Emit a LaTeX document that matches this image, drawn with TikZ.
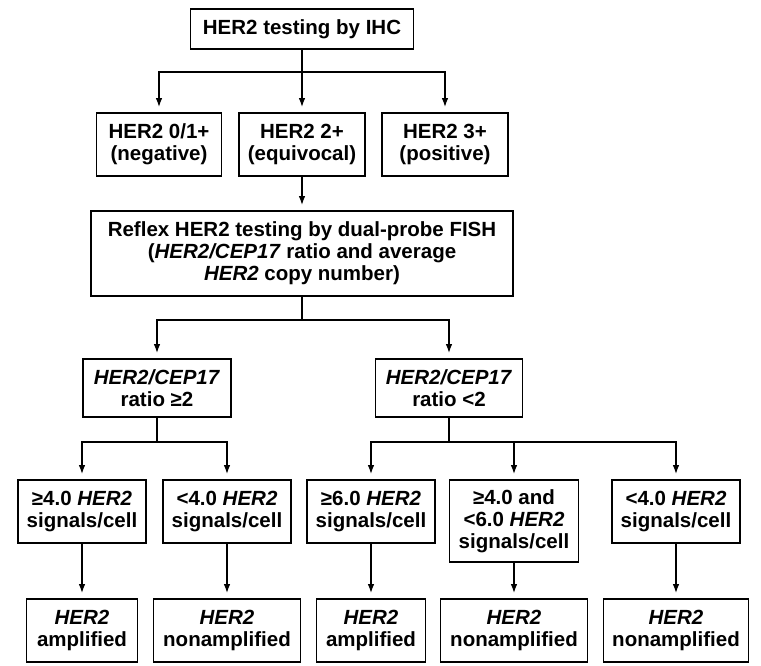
\documentclass[tikz,border=0pt]{standalone}
\usepackage{fontspec}
\setmainfont{Liberation Sans}
\usepackage{tikz}
\usetikzlibrary{positioning}
\usetikzlibrary{calc,arrows.meta}
\tikzset{
  box/.style = {rectangle, draw, line width=1.6pt, align=center,
   inner sep=1pt, font=\bfseries\fontsize{20.5}{22}\selectfont},
  link/.style = {line width=1.6pt},
  arr/.style = {-{Latex[length=9pt,width=6.5pt]}, line width=1.6pt,
   shorten >=5pt},
}
\newcommand{\gene}[1]{\textit{#1}}

\begin{document}
\begin{tikzpicture}[x=1pt,y=-1pt]
\useasboundingbox (0,0) rectangle (761,666);
\node at(302,29) (ihc) [box, minimum width=223pt, minimum height=40pt] {HER2 testing by IHC};
\node at(159,144.5) (neg) [box, minimum width=125pt, minimum height=63pt] {HER2 0/1+\\(negative)};
\node at(302,144.5) (equiv) [box, minimum width=126pt, minimum height=63pt] {HER2 2+\\(equivocal)};
\node at(445,144.5) (pos) [box, minimum width=126pt, minimum height=63pt] {HER2 3+\\(positive)};
\node at(302,253.5) (fish) [box, minimum width=422pt, minimum height=85pt] {Reflex HER2 testing by dual-probe FISH\\(\gene{HER2/CEP17} ratio and average\\\gene{HER2} copy number)};
\node at(157,388) (hi) [box, minimum width=148pt, minimum height=58pt] {\gene{HER2/CEP17}\\ratio ≥2};
\node at(449,388) (lo) [box, minimum width=147pt, minimum height=58pt] {\gene{HER2/CEP17}\\ratio <2};
% copy number
\node at(82,511.5) (b1) [box, minimum width=128pt, minimum height=63pt] {≥4.0 \gene{HER2}\\signals/cell};
\node at(227,511.5) (b2) [box, minimum width=128pt, minimum height=63pt] {<4.0 \gene{HER2}\\signals/cell};
\node at(371,511.5) (b3) [box, minimum width=128pt, minimum height=63pt] {≥6.0 \gene{HER2}\\signals/cell};
\node at(514,521) (b4) [box, minimum width=129pt, minimum height=82pt] {≥4.0 and\\<6.0 \gene{HER2}\\signals/cell};
\node at(676,511.5) (b5) [box, minimum width=128pt, minimum height=63pt] {<4.0 \gene{HER2}\\signals/cell};
% results
\node at(82,630.5) (c1) [box, minimum width=111pt, minimum height=63pt] {\gene{HER2}\\amplified};
\node at(227,630.5) (c2) [box, minimum width=147pt, minimum height=63pt] {\gene{HER2}\\nonamplified};
\node at(371,630.5) (c3) [box, minimum width=109pt, minimum height=63pt] {\gene{HER2}\\amplified};
\node at(514,630.5) (c4) [box, minimum width=147pt, minimum height=63pt] {\gene{HER2}\\nonamplified};
\node at(676,630.5) (c5) [box, minimum width=145pt, minimum height=63pt] {\gene{HER2}\\nonamplified};
\coordinate (s1) at (302,72);
\coordinate (s2) at (302,320);
\coordinate (s3) at (157,442);
\coordinate (s4) at (449,442);
\draw[link] (ihc) -- (s1);
\draw[arr] (s1) -| (neg);
\draw[arr] (s1) -- (equiv);
\draw[arr] (s1) -| (pos);
\draw[arr] (equiv) -- (fish);
\draw[link] (fish) -- (s2);
\draw[arr] (s2) -| (hi);
\draw[arr] (s2) -| (lo);
\draw[link] (hi) -- (s3);
\draw[arr] (s3) -| (b1);
\draw[arr] (s3) -| (b2);
\draw[link] (lo) -- (s4);
\draw[arr] (s4) -| (b3);
\draw[arr] (s4) -| (b4);
\draw[arr] (s4) -| (b5);
\path[arr] (b1) edge (c1) (b2) edge (c2) (b3) edge (c3) (b4) edge (c4) (b5) edge (c5);
\end{tikzpicture}
\end{document}
